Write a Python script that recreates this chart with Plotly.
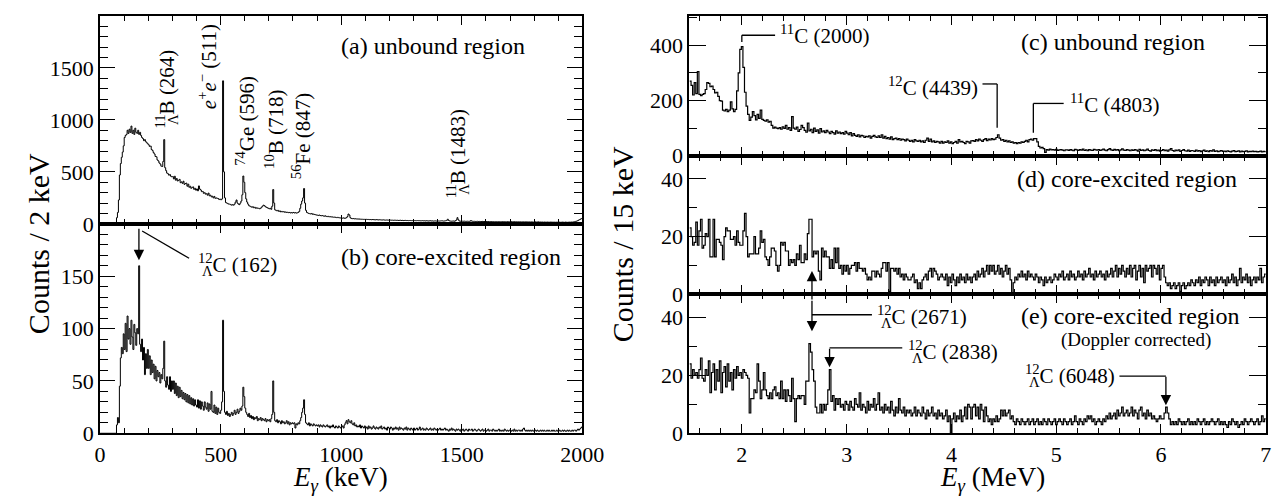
import plotly.graph_objects as go

W, H = 1288, 497

# ---------------- data ----------------
bin_left_kev = 4
start_left_kev = 0
counts_unbound_kev = [
    0,0,0,0,0,0,0,0,0,0,0,0,0,0,0,0,0,60,110,230,470,580,640,690,750,
    830,850,860,900,870,910,880,940,870,900,860,920,880,870,900,860,880,850,830,820,800,810,790,780,770,
    760,745,748,715,705,685,672,648,645,615,605,585,575,555,552,600,810,540,512,488,482,468,474,458,452,
    455,432,458,420,436,412,418,428,396,404,390,410,380,388,392,362,382,352,362,342,350,356,332,342,324,
    336,318,365,335,326,310,312,294,300,286,290,276,296,270,276,260,266,250,264,246,250,246,244,234,238,
    232,240,1375,500,250,205,200,195,190,190,185,180,185,180,190,210,230,200,190,185,200,220,280,460,400,
    300,240,210,190,175,170,165,160,165,155,160,150,155,150,150,145,150,160,170,180,175,165,160,155,150,
    145,150,140,170,330,200,135,130,125,130,120,125,115,120,115,118,112,115,110,112,108,110,105,108,105,
    110,105,108,104,106,110,120,150,190,220,250,340,200,130,110,105,100,98,95,100,92,95,90,88,85,
    84,82,85,80,78,80,76,74,78,72,70,73,68,70,66,68,65,64,66,62,60,63,60,58,57,
    56,55,58,54,55,60,70,95,85,60,52,50,52,48,50,47,48,46,48,45,46,44,45,43,44,
    43,44,42,43,41,42,40,42,41,40,39,41,40,38,40,39,38,37,39,38,36,37,38,36,37,
    36,37,35,36,34,36,35,34,35,33,34,35,33,34,32,33,34,32,33,31,32,33,31,32,31,
    31,32,30,31,32,30,31,29,30,31,29,30,28,30,29,28,29,30,28,29,27,28,29,27,28,
    28,27,28,29,30,28,27,29,30,34,45,33,28,27,26,27,28,26,30,38,60,40,28,26,25,
    26,25,27,25,24,26,25,24,26,32,27,25,24,25,23,24,25,23,24,22,23,24,22,23,22,
    23,22,23,21,22,23,21,22,20,21,22,21,20,22,21,20,21,22,20,21,20,19,21,20,19,
    20,21,19,20,21,19,20,18,20,19,20,18,19,20,18,19,20,18,19,18,19,17,19,18,17,
    18,19,17,18,19,17,18,17,18,16,18,17,16,18,17,16,17,18,16,17,16,17,15,17,16,
    16,17,15,16,17,16,15,17,16,15,16,17,16,18,17,18,20,22,25,28,32,38,42,48,52,
]
counts_core_kev = [
    0,0,0,0,0,0,0,0,0,0,0,0,0,0,0,0,0,8,15,10,45,72,82,76,95,
    80,105,78,112,90,100,85,108,92,80,104,96,84,100,95,160,85,78,90,70,82,56,76,62,80,
    62,74,56,70,58,66,52,64,50,60,54,58,48,56,52,62,88,50,44,54,46,42,54,40,50,
    42,50,38,48,36,45,34,44,35,41,33,39,32,38,30,37,29,36,28,34,27,33,26,32,27,
    25,32,24,31,23,30,26,22,30,25,23,29,21,28,23,40,21,20,27,19,25,18,24,20,19,
    22,30,108,40,20,18,21,17,19,16,18,20,17,19,22,18,20,23,19,21,24,22,26,44,35,
    24,20,18,16,19,15,17,14,16,13,15,14,16,12,14,13,15,12,14,13,12,14,11,13,12,
    13,11,14,18,50,20,12,11,13,10,12,11,9,12,10,11,9,10,12,9,11,8,10,9,10,
    9,10,5,9,8,10,9,12,15,20,24,32,18,10,9,8,10,7,9,8,7,9,8,7,8,
    7,8,6,8,7,6,8,7,6,7,8,6,7,5,7,6,8,6,5,7,6,5,7,6,5,
    6,7,5,8,10,12,9,13,11,10,12,9,8,10,7,8,6,7,6,8,5,7,6,5,7,
    5,6,4,7,5,6,4,5,7,5,4,6,5,4,6,5,7,4,5,6,4,5,3,6,5,
    4,6,5,3,5,4,6,4,5,3,6,4,5,4,3,5,4,6,3,5,4,3,5,4,3,
    5,3,4,5,3,4,6,3,4,5,3,4,3,5,4,3,4,5,3,4,3,5,4,3,4,
    3,4,5,3,4,3,4,5,3,4,3,2,4,3,5,3,4,3,2,4,3,4,3,2,4,
    3,4,2,3,4,3,2,4,3,3,4,2,3,4,3,2,3,4,3,2,3,4,2,3,3,
    2,3,4,2,3,3,2,4,3,2,3,2,3,4,2,3,2,3,2,4,3,2,3,2,3,
    3,2,3,2,4,2,3,2,3,3,2,3,2,4,5,3,2,3,2,3,2,3,2,3,2,
    2,3,2,3,2,2,3,2,3,2,3,2,2,3,2,3,2,2,3,2,3,2,2,3,2,
    2,3,2,2,3,2,3,2,2,3,2,3,2,2,3,2,3,3,2,3,4,3,4,5,6,
]

bin_right_mev = 0.015
start_right_mev = 1.5
counts_unbound_mev = [
    270,255,220,265,225,305,222,218,222,225,240,265,262,250,252,240,228,230,215,200,
    198,165,162,168,160,165,195,170,160,168,235,300,385,395,320,230,180,150,128,140,
    160,145,130,150,135,165,132,128,125,130,122,125,110,100,104,100,98,102,96,105,
    99,110,96,102,92,142,100,96,104,88,95,110,102,92,85,118,90,96,84,100,
    88,94,82,98,86,90,84,92,86,80,88,84,78,90,82,86,80,84,78,88,
    82,76,84,72,80,74,70,76,68,74,72,66,70,68,72,64,70,74,68,66,
    72,66,76,64,70,62,66,60,68,58,62,64,58,62,56,60,58,54,60,56,
    52,56,50,58,54,52,56,50,54,48,56,64,52,60,50,54,48,52,50,46,
    52,46,50,48,54,46,50,44,48,52,46,58,50,52,48,44,52,50,46,54,
    55,52,58,54,60,56,52,58,62,55,60,57,62,58,60,66,76,64,56,58,
    52,56,50,54,48,50,46,48,44,48,46,50,48,52,56,50,58,60,56,62,
    62,50,34,28,30,26,12,22,20,24,21,22,20,23,19,21,22,20,18,21,
    21,19,22,20,18,23,21,19,22,20,24,19,21,18,22,20,19,23,21,20,
    22,19,21,24,20,18,22,26,21,19,23,20,22,18,21,25,20,19,22,20,
    18,21,19,22,20,17,23,19,21,18,20,24,19,17,21,19,22,18,20,17,
    19,22,18,20,17,21,26,19,17,20,18,21,16,19,22,18,17,20,16,19,
    18,16,20,17,19,15,18,20,16,18,15,19,17,21,16,18,15,17,19,16,
    17,15,18,16,14,17,19,15,16,18,14,17,15,16,18,14,16,15,17,15,
    16,14,15,17,14,16,15,
]
counts_core_mev = [
    23,20,17,18,25,17,22,26,16,17,21,20,26,13,13,26,13,19,19,18,
    17,12,20,23,22,22,19,19,20,17,22,18,17,17,22,28,20,13,14,14,
    14,20,14,14,16,22,18,19,13,12,10,13,16,16,15,10,8,10,18,17,
    18,15,15,10,12,11,12,10,14,12,17,11,11,14,12,21,26,26,13,15,
    14,15,8,5,16,13,15,13,13,9,12,9,16,11,16,9,10,7,10,8,
    10,7,9,10,10,11,8,11,9,9,8,9,7,5,6,5,8,8,6,8,
    7,6,9,11,11,8,11,1,9,9,8,9,7,9,6,7,5,7,6,5,
    5,6,7,4,5,2,4,2,5,6,7,5,8,9,6,9,8,7,5,6,
    7,6,5,7,3,6,4,7,5,3,6,4,7,5,6,4,7,5,6,4,
    6,7,5,8,6,7,9,6,8,10,7,10,8,10,7,8,10,7,9,6,
    8,10,7,9,5,0,4,6,5,7,6,8,6,7,5,8,6,7,6,5,
    7,6,4,6,5,3,6,4,5,6,4,5,7,6,5,7,6,8,5,6,
    7,5,8,6,7,5,6,8,6,7,5,8,6,7,9,6,7,5,8,6,
    7,8,6,7,5,8,6,7,9,6,8,10,6,9,7,10,8,6,9,7,
    10,6,9,10,5,8,10,6,9,4,10,8,9,10,6,10,9,7,10,5,
    9,10,6,4,3,4,2,3,4,2,3,4,1,3,4,2,3,4,3,5,
    4,3,5,4,6,3,5,4,6,5,3,6,4,5,3,6,4,5,6,4,
    5,3,6,4,5,7,4,6,3,5,9,4,6,5,7,4,6,3,5,6,
    4,6,5,9,4,6,7,
]
counts_doppler_mev = [
    24,19,22,20,21,19,22,26,19,18,22,20,25,14,21,24,15,22,18,25,
    14,21,23,16,24,18,21,15,22,19,23,20,21,19,22,21,20,19,7,12,
    12,15,14,24,18,12,15,21,15,13,12,14,12,15,16,13,14,12,18,12,
    15,11,15,13,11,19,12,4,12,13,12,13,13,10,18,18,31,28,22,18,
    9,7,7,10,7,10,8,10,15,22,11,13,8,12,10,12,9,10,8,11,
    10,8,11,9,8,12,10,9,14,8,10,9,7,11,8,10,9,12,8,10,
    14,8,9,7,10,8,9,7,11,8,6,9,7,12,8,7,9,6,8,7,
    8,6,7,9,6,8,7,6,9,7,5,8,6,7,9,6,7,5,8,6,
    7,5,6,8,4,6,0,5,7,4,6,5,8,4,6,9,5,10,9,5,
    9,10,6,9,5,10,8,4,9,6,4,5,3,5,4,6,4,5,8,6,
    8,6,7,8,5,6,4,3,5,4,3,5,4,3,4,5,3,4,5,3,
    4,5,3,4,3,5,4,3,5,4,3,4,5,3,4,5,4,3,5,4,
    3,4,5,3,4,6,4,3,5,4,3,5,4,6,5,6,4,5,3,4,
    5,4,3,5,4,6,5,7,5,6,7,5,8,6,7,9,6,7,8,6,
    7,9,6,8,7,5,8,9,6,7,5,8,6,7,5,6,5,4,5,6,
    5,5,7,9,7,5,3,4,3,4,3,5,4,3,4,3,4,5,3,4,
    3,4,3,5,4,3,4,5,3,4,3,4,5,4,3,4,5,3,4,3,
    4,3,2,4,3,5,4,3,4,2,3,4,3,5,4,3,4,5,4,3,
    4,5,3,4,6,4,5,
]

left_xticks = [0, 500, 1000, 1500, 2000]
right_xticks = [2, 3, 4, 5, 6, 7]
yticks_a = [0, 500, 1000, 1500]
yticks_b = [0, 50, 100, 150]
yticks_c = [0, 200, 400]
yticks_de = [0, 20, 40]

# ---------------- helpers ----------------
FONT = "Liberation Serif"


def fx(px):
    return px / W


def fy(py):
    return 1 - py / H


def step_xy(start, width, counts):
    xs = [start + width * i for i in range(len(counts) + 1)]
    ys = list(counts) + [counts[-1]]
    return xs, ys


def lam(mass, rest):
    # superscript mass number stacked over a subscript Lambda
    return ("<sup>" + mass + "</sup>"
            "<span style='letter-spacing:-16px'>\u00a0</span>"
            "<sub>Λ</sub>" + rest)


fig = go.Figure()

panels = [
    ("x", "y", start_left_kev, bin_left_kev, counts_unbound_kev, 1.0),
    ("x2", "y2", start_left_kev, bin_left_kev, counts_core_kev, 1.0),
    ("x3", "y3", start_right_mev, bin_right_mev, counts_unbound_mev, 1.2),
    ("x4", "y4", start_right_mev, bin_right_mev, counts_core_mev, 1.2),
    ("x5", "y5", start_right_mev, bin_right_mev, counts_doppler_mev, 1.2),
]
for xa, ya, st, bw, cts, lw in panels:
    xs, ys = step_xy(st, bw, cts)
    fig.add_trace(go.Scatter(x=xs, y=ys, mode="lines", xaxis=xa, yaxis=ya,
                             line=dict(color="black", width=lw, shape="hv"),
                             showlegend=False, hoverinfo="skip"))

tickfont = dict(family=FONT, size=22, color="black")


def xaxis(domain, anchor, rng, tickvals, minor_dtick, labels):
    return dict(domain=domain, anchor=anchor, range=rng, tickmode="array",
                tickvals=tickvals, showticklabels=labels, ticks="inside",
                ticklen=9, tickwidth=1.3, tickcolor="black",
                minor=dict(ticks="inside", ticklen=5, tickwidth=1, tickcolor="black",
                           tickmode="linear", tick0=0, dtick=minor_dtick),
                showline=True, linecolor="black", linewidth=2, mirror="allticks",
                showgrid=False, zeroline=False, tickfont=tickfont)


def yaxis(domain, anchor, rng, tickvals, minor_dtick, mlen):
    return dict(domain=domain, anchor=anchor, range=rng, tickmode="array",
                tickvals=tickvals, ticks="inside", ticklen=mlen, tickwidth=1.3,
                tickcolor="black",
                minor=dict(ticks="inside", ticklen=8, tickwidth=1, tickcolor="black",
                           tickmode="linear", tick0=0, dtick=minor_dtick),
                showline=True, linecolor="black", linewidth=2, mirror="allticks",
                showgrid=False, zeroline=False, tickfont=tickfont)


xL = [fx(88), fx(581)]
xR = [fx(690.5), fx(1279.5)]

fig.update_layout(
    width=W, height=H, margin=dict(l=0, r=0, t=0, b=0),
    paper_bgcolor="white", plot_bgcolor="white",
    font=dict(family=FONT, color="black"),
    xaxis=xaxis(xL, "y", [0, 2000], left_xticks, 100, False),
    yaxis=yaxis([fy(221.7), fy(8)], "x", [0, 2000], yticks_a, 100, 15),
    xaxis2=xaxis(xL, "y2", [0, 2000], left_xticks, 100, True),
    yaxis2=yaxis([fy(436.7), fy(221.7)], "x2", [0, 200], yticks_b, 10, 15),
    xaxis3=xaxis(xR, "y3", [1.5, 7], right_xticks, 0.2, False),
    yaxis3=yaxis([fy(151.7), fy(8.3)], "x3", [0, 506], yticks_c, 100, 17),
    xaxis4=xaxis(xR, "y4", [1.5, 7], right_xticks, 0.2, False),
    yaxis4=yaxis([fy(294), fy(151.7)], "x4", [0, 48], yticks_de, 10, 17),
    xaxis5=xaxis(xR, "y5", [1.5, 7], right_xticks, 0.2, True),
    yaxis5=yaxis([fy(436.7), fy(294)], "x5", [0, 48], yticks_de, 10, 17),
)

ann = []
shapes = []
LBL = dict(family=FONT, size=21, color="black")
PNL = dict(family=FONT, size=24, color="black")
TTL = dict(family=FONT, size=30, color="black")
XTTL = dict(family=FONT, size=27, color="black")


def text(px, py, s, font, xanchor="left", angle=0):
    ann.append(dict(x=fx(px), y=fy(py), xref="paper", yref="paper", text=s,
                    showarrow=False, xanchor=xanchor, yanchor="middle",
                    textangle=angle, font=font))


def line(x0, y0, x1, y1):
    shapes.append(dict(type="line", xref="paper", yref="paper",
                       x0=fx(x0), y0=fy(y0), x1=fx(x1), y1=fy(y1),
                       line=dict(color="black", width=1.3)))


def arrow(tipx, tipy, tailx, taily):
    ann.append(dict(x=fx(tipx), y=fy(tipy), xref="paper", yref="paper",
                    ax=tailx - tipx, ay=taily - tipy, axref="pixel", ayref="pixel",
                    text="", showarrow=True, arrowhead=2, arrowsize=1.6,
                    arrowwidth=1.3, arrowcolor="black", standoff=0, startstandoff=0))


# axis titles
text(25, 242, "Counts / 2 keV", TTL, "center", -90)
text(622, 242, "Counts / 15 keV", TTL, "center", -90)
text(334, 484, "<i>E</i><sub><i>γ</i></sub> (keV)", XTTL, "center")
text(1000, 484, "<i>E</i><sub><i>γ</i></sub> (MeV)", XTTL, "center")

# panel labels
text(332, 39, "(a) unbound region", PNL)
text(332, 256, "(b) core-excited region", PNL)
text(1027, 35, "(c) unbound region", PNL)
text(1023, 176, "(d) core-excited region", PNL)
text(1027, 316, "(e) core-excited region", PNL)
text(1068, 341, "(Doppler corrected)", dict(family=FONT, size=19, color="black"))

# left rotated peak labels
text(156, 83, lam("11", "B (264)"), LBL, "center", -90)
text(198, 60, "<i>e</i><sup>+</sup><i>e</i><sup>−</sup> (511)", LBL, "center", -90)
text(237, 116, "<sup>74</sup>Ge (596)", LBL, "center", -90)
text(267, 125, "<sup>10</sup>B (718)", LBL, "center", -90)
text(294, 132, "<sup>56</sup>Fe (847)", LBL, "center", -90)
text(453, 150, lam("11", "B (1483)"), LBL, "center", -90)

# (b) 162 keV
arrow(127.7, 259, 127.7, 226)
line(131, 229, 179, 257)
text(186, 263, lam("12", "C (162)"), LBL)

# (c)
line(744, 35, 744, 28)
line(744, 28, 778, 28)
text(781, 27, "<sup>11</sup>C (2000)", LBL)
line(990, 78, 1005, 78)
line(1005, 78, 1005, 123)
text(987, 81, "<sup>12</sup>C (4439)", LBL, "right")
line(1042, 128, 1042, 98)
line(1042, 98, 1073, 98)
text(1077, 98, "<sup>11</sup>C (4803)", LBL)

# (d)/(e) 2671 double arrow
arrow(815.7, 270, 815.7, 300)
arrow(815.7, 332, 815.7, 300)
line(815.7, 315, 877, 315)
text(880, 317, lam("12", "C (2671)"), LBL)

# 2838
line(833.7, 349, 908, 349)
arrow(833.7, 369, 833.7, 349)
text(912, 353, lam("12", "C (2838)"), LBL)

# 6048
line(1130, 378, 1177.5, 378)
arrow(1177.5, 408, 1177.5, 378)
text(1127, 377, lam("12", "C (6048)"), LBL, "right")

fig.update_layout(annotations=ann, shapes=shapes)
fig.write_html("out.html")
